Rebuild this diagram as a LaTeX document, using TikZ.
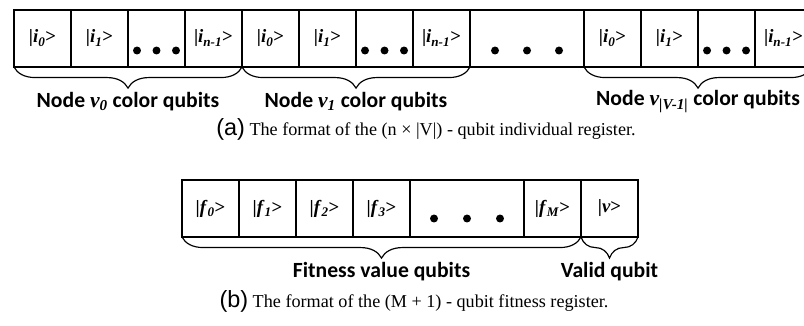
\documentclass[tikz,border=0pt]{standalone}
\usepackage{fontspec}
\setmainfont{Liberation Serif}
\setsansfont{Carlito}
\newfontfamily\tagfont{Liberation Sans}
\usetikzlibrary{positioning, decorations.pathreplacing}

\newcommand{\qket}[2]{\textbf{|\textit{#1}\textsubscript{\textit{#2}}>}}
\newcommand{\nodev}[1]{{\rmfamily\bfseries\itshape v\textsubscript{#1}}}

\begin{document}
\begin{tikzpicture}[x=0.03cm, y=-0.03cm,
  cell/.style={draw, line width=1pt, minimum width=1.71cm, minimum height=1.71cm, inner sep=0pt, outer sep=0pt, font=\fontsize{16}{16}\selectfont},
  wide/.style={cell, minimum width=3.42cm},
  brc/.style={decorate, decoration={brace, mirror, amplitude=18pt}, line width=1pt},
  lbl/.style={midway, yshift=-1.03cm, font=\sffamily\bfseries\fontsize{18.5}{18.5}\selectfont},
  captxt/.style={font=\fontsize{15.5}{15.5}\selectfont}]
\useasboundingbox (0,0) rectangle (804,325);
\node[cell, anchor=north west] (v0i0) at (14,10) {\qket{i}{0}};
\node[cell, right=0pt of v0i0] (v0i1) {\qket{i}{1}};
\node[cell, right=0pt of v0i1] (v0dots) {};
\node[cell, right=0pt of v0dots] (v0in) {\qket{i}{n-1}};
\node[cell, right=0pt of v0in] (v1i0) {\qket{i}{0}};
\node[cell, right=0pt of v1i0] (v1i1) {\qket{i}{1}};
\node[cell, right=0pt of v1i1] (v1dots) {};
\node[cell, right=0pt of v1dots] (v1in) {\qket{i}{n-1}};
\node[wide, right=0pt of v1in] (vdots) {};
\node[cell, right=0pt of vdots] (vVi0) {\qket{i}{0}};
\node[cell, right=0pt of vVi0] (vVi1) {\qket{i}{1}};
\node[cell, right=0pt of vVi1] (vVdots) {};
\node[cell, right=0pt of vVdots] (vVin) {\qket{i}{n-1}};
\foreach \n in {v0dots, v1dots, vVdots}
  \foreach \dx in {-19.5, 0, 19.5}
    \fill ([shift={(\dx,12)}]\n.center) circle (3.4pt);
\foreach \dx in {-32, 0, 32}
  \fill ([shift={(\dx,12)}]vdots.center) circle (3.4pt);
\draw[brc] (v0i0.south west) -- (v0in.south east)
  node[lbl] (lv0) {Node \nodev{0} color qubits};
\draw[brc] (v1i0.south west) -- (v1in.south east)
  node[lbl] (lv1) {Node \nodev{1} color qubits};
\draw[brc] (vVi0.south west) -- (vVin.south east)
  node[lbl] (lvV) {Node \nodev{|V-1|} color qubits};
\node[captxt] (capa) at (426,129) {{\tagfont\fontsize{20}{20}\selectfont (a)} The format of the (n × |V|) - qubit individual register.};

\node[cell, anchor=north west] (f0) at (182,180) {\qket{f}{0}};
\node[cell, right=0pt of f0] (f1) {\qket{f}{1}};
\node[cell, right=0pt of f1] (f2) {\qket{f}{2}};
\node[cell, right=0pt of f2] (f3) {\qket{f}{3}};
\node[wide, right=0pt of f3] (fdots) {};
\node[cell, right=0pt of fdots] (fM) {\qket{f}{M}};
\node[cell, right=0pt of fM] (valid) {\textbf{|\textit{v}>}};
\foreach \dx in {-33, 0, 33}
  \fill ([shift={(\dx,10)}]fdots.center) circle (3.4pt);
\draw[brc] (f0.south west) -- (fM.south east)
  node[lbl] (lfit) {Fitness value qubits};
\draw[brc] (valid.south west) -- (valid.south east)
  node[lbl] (lval) {Valid qubit};
\node[captxt] (capb) at (414,301) {{\tagfont\fontsize{20}{20}\selectfont (b)} The format of the (M + 1) - qubit fitness register.};
\end{tikzpicture}
\end{document}
